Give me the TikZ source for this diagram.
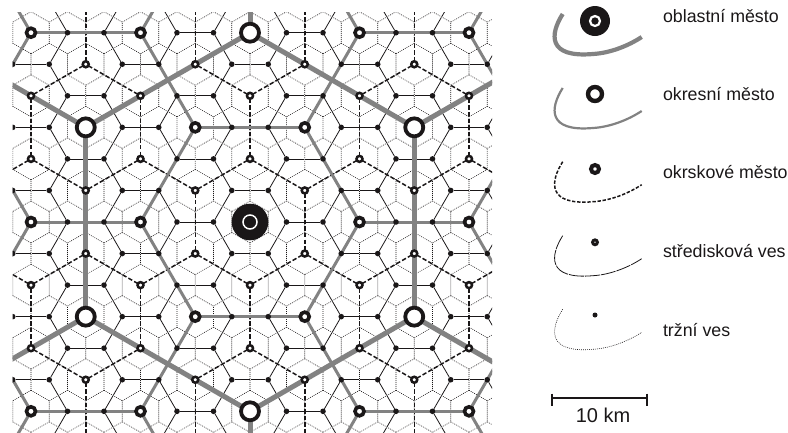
\documentclass[tikz,border=0pt]{standalone}
\usepackage{fontspec}
\setmainfont{Liberation Sans}
\pgfdeclarelayer{edges}
\pgfsetlayers{edges,main}
\definecolor{ink}{HTML}{1A1718}
\definecolor{road}{HTML}{828282}
\tikzset{
  x=1pt,y=-1pt,
  lv0/.style={circle,fill=ink,inner sep=0,outer sep=0,minimum size=5.6pt},
  lv1/.style={circle,draw=ink,fill=white,line width=2.5pt,inner sep=0,outer sep=0,minimum size=6pt},
  lv2/.style={circle,draw=ink,fill=white,line width=3.6pt,inner sep=0,outer sep=0,minimum size=9pt},
  lv3/.style={circle,draw=ink,fill=white,line width=3.8pt,inner sep=0,outer sep=0,minimum size=18pt},
  lv4/.style={circle,fill=ink,inner sep=0,outer sep=0,minimum size=36.6pt},
  hole/.style={circle,draw=white,line width=1.5pt,inner sep=0,outer sep=0,minimum size=#1},
  bound0/.style={draw=road,line width=5pt},
  bound1/.style={draw=road,line width=3pt},
  bound2/.style={draw=ink,line width=1.5pt,dash pattern=on 4.4pt off 2.2pt},
  bound3/.style={draw=ink,line width=.8pt,dash pattern=on 15pt off 1pt},
  bound4/.style={draw=ink,line width=.6pt,dash pattern=on .9pt off 1.1pt},
  label/.style={anchor=base west,font=\fontsize{17.8pt}{20pt}\selectfont,text=ink,inner sep=0,outer sep=0},
}
\newcommand{\mapclip}{\clip (12.5,12) rectangle (492,432);}
% one honeycomb edge: centre (#1,#2), offsets (#3,#4) and (#5,#6), style #7
\newcommand{\hexedge}[7]{%
  \pgfmathtruncatemacro\ax{#1+#3}\pgfmathtruncatemacro\ay{#2+#4}%
  \pgfmathtruncatemacro\bx{#1+#5}\pgfmathtruncatemacro\by{#2+#6}%
  \draw[#7] (p\ax_\ay) -- (p\bx_\by);}
\newcommand{\legendcurve}[3]{% start y, style
  \coordinate (#1a) at (562.7,#2);
  \coordinate (#1b) at (593,#2+40);
  \coordinate (#1c) at (641.7,#2+23);
  \draw[#3,line cap=butt] (#1a) .. controls (550,#2+20) and (547,#2+44) .. (#1b)
     .. controls (610,#2+39) and (628,#2+32) .. (#1c);}
\begin{document}
\begin{tikzpicture}
\useasboundingbox (0,0) rectangle (788,432);
% settlements
\begin{scope}
\mapclip
\foreach \n in {-24,...,24}{\foreach \m in {-15,...,15}{%
  \ifodd\numexpr\n+\m\relax\else
    \pgfmathtruncatemacro\lv{(mod(\n,3)==0)*(1+(mod(\m,3)==0)*(1+(mod(\n,9)==0)*(1+(mod(\m,9)==0))))}%
    \node[lv\lv] (p\n_\m) at ({250+18.25*\n},{222+31.55*\m}) {};
  \fi
}}
\node[hole=14pt] (capitalhole) at (p0_0) {};
\end{scope}
% boundaries under the settlements
\begin{pgfonlayer}{edges}
\begin{scope}
\mapclip
\foreach \n in {-14,...,14}{\foreach \m in {-7,...,7}{%
  \ifodd\numexpr\n+\m\relax\else
    \draw[bound4] ({250+18.25*\n},{222+31.55*(\m-2/3)})
       -- ({250+18.25*(\n+1)},{222+31.55*(\m-1/3)})
       -- ({250+18.25*(\n+1)},{222+31.55*(\m+1/3)})
       -- ({250+18.25*\n},{222+31.55*(\m+2/3)});
  \fi
}}
\foreach \a in {-7,...,7}{\foreach \m in {-12,...,12}{%
  \ifodd\numexpr\a+\m\relax\else
    \pgfmathtruncatemacro\cx{3*\a}%
    \hexedge{\cx}{\m}{-1}{-1}{1}{-1}{bound3}
    \hexedge{\cx}{\m}{1}{-1}{2}{0}{bound3}
    \hexedge{\cx}{\m}{2}{0}{1}{1}{bound3}
  \fi
}}
\foreach \a in {-7,...,7}{\foreach \b in {-4,...,4}{%
  \ifodd\numexpr\a+\b\relax\else
    \pgfmathtruncatemacro\cx{3*\a}\pgfmathtruncatemacro\cy{3*\b}%
    \hexedge{\cx}{\cy}{0}{-2}{3}{-1}{bound2}
    \hexedge{\cx}{\cy}{3}{-1}{3}{1}{bound2}
    \hexedge{\cx}{\cy}{3}{1}{0}{2}{bound2}
  \fi
}}
\foreach \c in {-2,...,2}{\foreach \d in {-4,...,4}{%
  \ifodd\numexpr\c+\d\relax\else
    \pgfmathtruncatemacro\cx{9*\c}\pgfmathtruncatemacro\cy{3*\d}%
    \hexedge{\cx}{\cy}{-3}{-3}{3}{-3}{bound1}
    \hexedge{\cx}{\cy}{3}{-3}{6}{0}{bound1}
    \hexedge{\cx}{\cy}{6}{0}{3}{3}{bound1}
  \fi
}}
\foreach \ax/\ay/\bx/\by in {0/-6/9/-3,9/-3/9/3,9/3/0/6,0/6/-9/3,-9/3/-9/-3,-9/-3/0/-6,
   0/-6/0/-12,9/-3/18/-6,9/3/18/6,0/6/0/12,-9/3/-18/6,-9/-3/-18/-6}{%
  \draw[bound0] (p\ax_\ay) -- (p\bx_\by);
}
\end{scope}
\end{pgfonlayer}
% legend
\legendcurve{ca}{14}{draw=road,line width=4.2pt}
\node[circle,fill=ink,inner sep=0,outer sep=0,minimum size=30pt] (lega) at (595,21) {};
\node[circle,draw=white,line width=2.2pt,inner sep=0,outer sep=0,minimum size=10pt] (legahole) at (lega) {};
\node[label] (texta) at (663,22) {oblastní město};
\legendcurve{cb}{88}{draw=road,line width=2.2pt}
\node[circle,draw=ink,fill=white,line width=4.4pt,inner sep=0,outer sep=0,minimum size=14pt] (legb) at (595,94) {};
\node[label] (textb) at (663,100) {okresní město};
\legendcurve{cc}{161.7}{draw=ink,line width=1.5pt,dash pattern=on 3.4pt off 1.7pt}
\node[circle,draw=ink,fill=white,line width=4pt,inner sep=0,outer sep=0,minimum size=8pt] (legc) at (595,169) {};
\node[label] (textc) at (663,178.3) {okrskové město};
\legendcurve{cd}{235.7}{draw=ink,line width=.8pt,dash pattern=on 15pt off 1pt}
\node[circle,draw=ink,fill=white,line width=3pt,inner sep=0,outer sep=0,minimum size=4.8pt] (legd) at (595,242.3) {};
\node[label] (textd) at (663,257.3) {středisková ves};
\legendcurve{ce}{309.3}{draw=ink,line width=.6pt,dash pattern=on .9pt off 1.1pt}
\node[circle,fill=ink,inner sep=0,outer sep=0,minimum size=5pt] (lege) at (595,315) {};
\node[label] (texte) at (663,336.7) {tržní ves};
% scale bar
\coordinate (sa) at (551.7,398.3);
\coordinate (sb) at (647.3,398.3);
\draw[ink,line width=1.7pt] (sa) -- (sb);
\draw[ink,line width=1.7pt] (551.7,393.5) -- (551.7,405.5);
\draw[ink,line width=1.7pt] (647.3,393.5) -- (647.3,405.5);
\node[label,anchor=base,font=\fontsize{20pt}{22pt}\selectfont] (scale) at (603,422.3) {10 km};
\end{tikzpicture}
\end{document}
